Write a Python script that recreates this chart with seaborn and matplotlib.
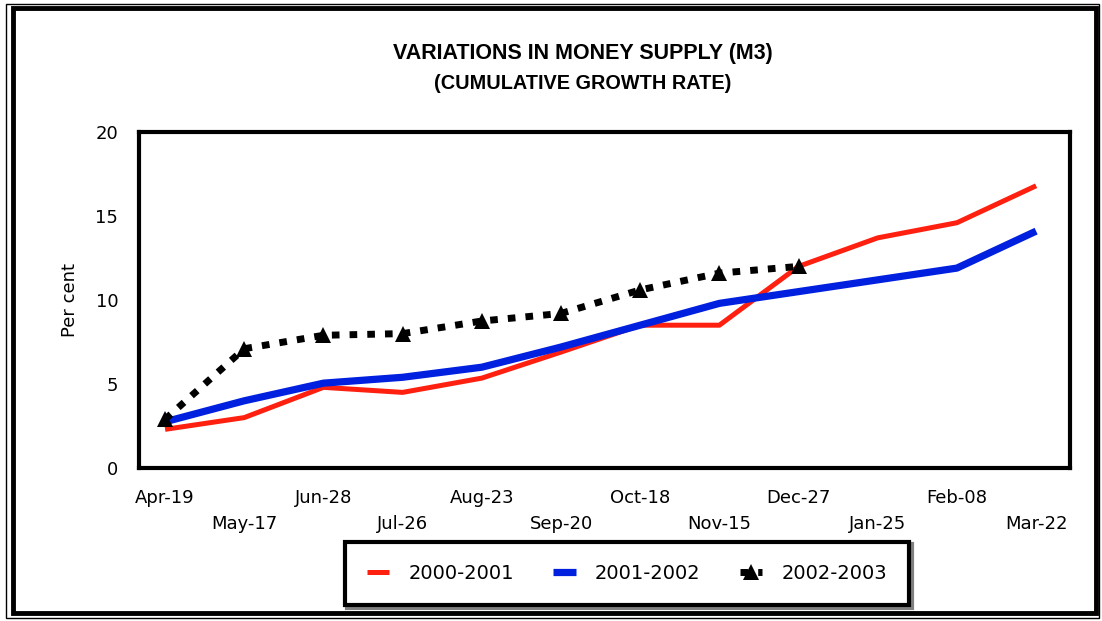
import numpy as np
import pandas as pd
import matplotlib
matplotlib.use("Agg")
import matplotlib.pyplot as plt
from matplotlib.patches import Rectangle
import seaborn as sns

# === DATA ===
DATES = ['Apr-19', 'May-17', 'Jun-28', 'Jul-26', 'Aug-23', 'Sep-20',
         'Oct-18', 'Nov-15', 'Dec-27', 'Jan-25', 'Feb-08', 'Mar-22']
Y_2000_01 = [2.3, 3.0, 4.8, 4.5, 5.35, 6.9, 8.5, 8.5, 12.0, 13.7, 14.6, 16.8]
Y_2001_02 = [2.75, 4.0, 5.05, 5.4, 6.0, 7.2, 8.5, 9.8, 10.5, 11.2, 11.9, 14.1]
Y_2002_03 = [2.9, 7.1, 7.9, 8.0, 8.75, 9.2, 10.6, 11.6, 12.0]
SERIES = ['2000-2001', '2001-2002', '2002-2003']
Y_TICKS = [0, 5, 10, 15, 20]

df = pd.DataFrame({'date': DATES,
                   '2000-2001': Y_2000_01,
                   '2001-2002': Y_2001_02,
                   '2002-2003': Y_2002_03 + [np.nan] * (len(DATES) - len(Y_2002_03))})
df['pos'] = np.arange(len(DATES))

sns.set_style("white")
plt.rcParams['font.family'] = ['DejaVu Sans']
plt.rcParams.update({'text.color': 'black', 'axes.labelcolor': 'black',
                     'xtick.color': 'black', 'ytick.color': 'black'})
TITLE_FONT = ['Liberation Sans', 'DejaVu Sans']

fig = plt.figure(figsize=(11.02, 6.21), dpi=100)
ax = fig.add_axes([0.1261, 0.2464, 0.845, 0.541])

sns.lineplot(data=df, x='pos', y='2000-2001', color='#ff2010', lw=3.6,
             ax=ax, label='2000-2001')
sns.lineplot(data=df, x='pos', y='2001-2002', color='#0020e0', lw=5.2,
             ax=ax, label='2001-2002')
sns.lineplot(data=df.dropna(), x='pos', y='2002-2003', color='black', lw=5.0,
             marker='^', markersize=11, markeredgewidth=0,
             dashes=(1.1, 1.45), ax=ax, label='2002-2003')
for ln in ax.lines:
    ln.set_dash_capstyle('butt')
    ln.set_solid_capstyle('butt')

ax.set_xlim(-0.33, 11.43)
ax.set_ylim(0, 20)
ax.set_yticks(Y_TICKS)
ax.set_yticklabels([str(v) for v in Y_TICKS], fontsize=13)
ax.set_xticks(df['pos'])
ax.set_xticklabels(DATES, fontsize=13)
ax.tick_params(axis='both', direction='in', length=9, width=1.6, color='black')
ax.tick_params(axis='y', pad=15)
for i, t in enumerate(ax.xaxis.get_major_ticks()):
    t.set_pad(15 if i % 2 == 0 else 34)

for sp in ax.spines.values():
    sp.set_linewidth(3)
    sp.set_color('black')

ax.set_xlabel('')
ax.set_ylabel('Per cent', fontsize=13, labelpad=12)
ax.get_legend().remove()

fig.text(0.529, 0.914, 'VARIATIONS IN MONEY SUPPLY (M3)', ha='center', va='center',
         fontsize=15.5, fontweight='bold', family=TITLE_FONT)
fig.text(0.529, 0.866, '(CUMULATIVE GROWTH RATE)', ha='center', va='center',
         fontsize=14.3, fontweight='bold', family=TITLE_FONT)

handles, labels = ax.get_legend_handles_labels()
leg = fig.legend(handles, labels, loc='center', bbox_to_anchor=(0.569, 0.0765),
                 ncol=3, fontsize=14, frameon=True, fancybox=False,
                 shadow={'color': '#808080', 'alpha': 1.0}, edgecolor='black',
                 handlelength=1.15, handletextpad=1.0, columnspacing=2.0,
                 borderpad=1.15)
leg.get_frame().set_linewidth(3)
for h in leg.legend_handles:
    h.set_solid_capstyle('butt')

# double frame round the whole picture
fig.patches.append(Rectangle((0.0055, 0.005), 0.992, 0.989, transform=fig.transFigure,
                             fill=False, lw=1.0, ec='black'))
fig.patches.append(Rectangle((0.0115, 0.0125), 0.983, 0.974, transform=fig.transFigure,
                             fill=False, lw=3.5, ec='black'))

fig.savefig('out.png', dpi=100, facecolor='white')
